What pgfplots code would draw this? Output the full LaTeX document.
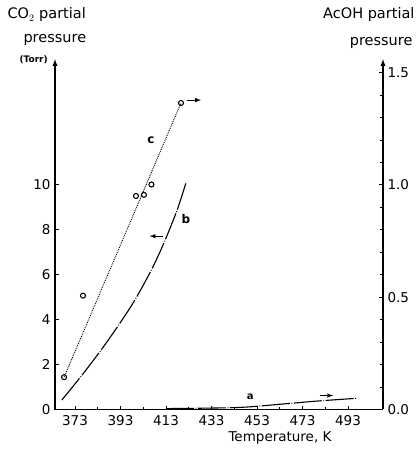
\documentclass[border=0pt]{standalone}
\usepackage{fontspec}
\setmainfont{DejaVu Sans}
\usepackage{pgfplots}
\pgfplotsset{compat=1.18}

\pgfplotsset{
  common/.style={
    scale only axis,
    width=328pt, height=350.3pt,
    xmin=364.2, xmax=508.4,
    clip=false,
    tick align=inside,
    major tick length=4pt,
    minor tick length=3pt,
    tick style={black, line width=0.9pt},
    tick label style={font=\fontsize{13.5}{15}\selectfont},
    /pgf/number format/assume math mode=true,
  },
  curve/.style={black, line width=1.1pt, smooth,
    dash pattern=on 28pt off 1.6pt on 0.8pt off 1.6pt},
}

\begin{document}
\begin{tikzpicture}
\useasboundingbox (-55pt,-40.5pt) rectangle (363pt,409.5pt);

% CO2 axis (left): curve b
\begin{axis}[
    common,
    ymin=0, ymax=15.6,
    axis x line*=bottom,
    axis y line*=left,
    x axis line style={-, line width=1.3pt},
    y axis line style={-latex, line width=1.3pt},
    xtick={373,393,...,493},
    minor x tick num=1,
    ytick={0,2,...,10},
    xticklabel style={yshift=-2pt},
    yticklabel style={xshift=-1pt},
]
\addplot[curve] coordinates {
    (367.2,0.42)
    (376.6,1.60)
    (386.9,2.99)
    (397.9,4.64)
    (406.0,6.10)
    (411.8,7.35)
    (417.7,8.83)
    (421.7,10.07)
};
\draw[-latex, line width=1pt] (axis cs:411.8,7.72) -- (axis cs:405.8,7.72);
\node[font=\fontsize{12}{14}\selectfont\bfseries] at (axis cs:421.8,8.47) {b};
\end{axis}

% AcOH axis (right): curves a and c
\begin{axis}[
    common,
    ymin=0, ymax=1.56,
    axis x line=none,
    axis y line*=right,
    y axis line style={-latex, line width=1.3pt},
    ytick={0,0.5,1.0,1.5},
    minor y tick num=4,
    yticklabel style={xshift=1pt, /pgf/number format/fixed,
      /pgf/number format/fixed zerofill, /pgf/number format/precision=1},
]
\addplot[black, line width=0.9pt, densely dotted] coordinates {
    (368.2,0.144)
    (419.6,1.365)
};
\addplot[only marks, mark=o, mark size=2.5pt, black, mark options={line width=1.1pt}] coordinates {
    (368.2,0.144)
    (376.5,0.507)
    (399.8,0.951)
    (403.3,0.956)
    (406.6,1.002)
    (419.6,1.365)
};
\addplot[curve] coordinates {
    (413,0.004)
    (430,0.006)
    (447,0.010)
    (465,0.025)
    (480,0.038)
    (497,0.050)
};
\draw[-latex, line width=1pt] (axis cs:422.2,1.378) -- (axis cs:428.4,1.378);
\draw[-latex, line width=1pt] (axis cs:480.5,0.062) -- (axis cs:486.5,0.062);
\node[font=\fontsize{12}{14}\selectfont\bfseries] at (axis cs:406.4,1.197) {c};
\node[font=\fontsize{10}{12}\selectfont\bfseries] at (axis cs:450,0.058) {a};
\end{axis}

% titles
\node[anchor=west, font=\fontsize{14.5}{16}\selectfont] at (-51pt,394.5pt) {CO$_2$ partial};
\node[anchor=west, font=\fontsize{14.5}{16}\selectfont] at (-35pt,369.5pt) {pressure};
\node[anchor=west, font=\fontsize{9}{11}\selectfont\bfseries] at (-39pt,349.5pt) {(Torr)};
\node[anchor=east, font=\fontsize{14.5}{16}\selectfont] at (363pt,394.5pt) {AcOH partial};
\node[anchor=east, font=\fontsize{14.5}{16}\selectfont] at (361pt,366.5pt) {pressure};
\node[font=\fontsize{13.5}{15}\selectfont] at (225pt,-28.5pt) {Temperature, K};
\end{tikzpicture}
\end{document}
